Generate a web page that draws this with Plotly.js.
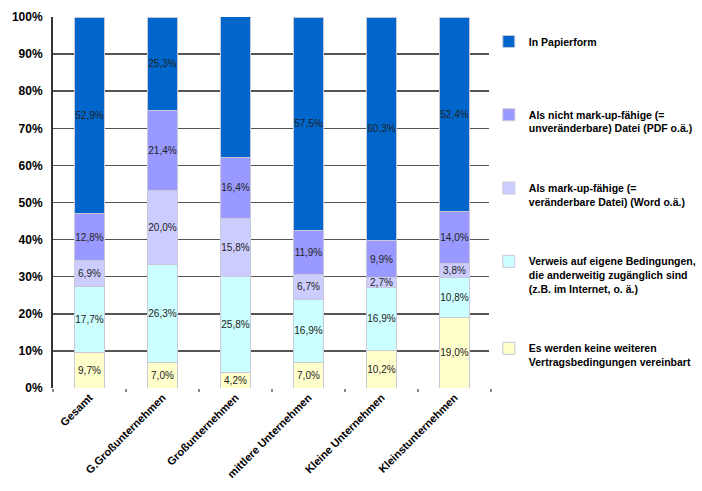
<!DOCTYPE html>
<html>
<head>
<meta charset="utf-8">
<script src="https://cdn.plot.ly/plotly-3.0.1.min.js"></script>
<style>html,body{margin:0;padding:0;background:#fff;}#chart{width:702px;height:491px;}</style>
</head>
<body>
<div id="chart"></div>
<script>
const categories = ["Gesamt", "G.Großunternehmen", "Großunternehmen", "mittlere Unternehmen", "Kleine Unternehmen", "Kleinstunternehmen"];
const seriesNames = [
  "Es werden keine weiteren<br>Vertragsbedingungen vereinbart",
  "Verweis auf eigene Bedingungen,<br>die anderweitig zugänglich sind<br>(z.B. im Internet, o. ä.)",
  "Als mark-up-fähige (=<br>veränderbare Datei) (Word o.ä.)",
  "Als nicht mark-up-fähige (=<br>unveränderbare) Datei (PDF o.ä.)",
  "In Papierform<br>\u00A0"
];
const keine      = [9.7, 7.0, 4.2, 7.0, 10.2, 19.0];
const verweis    = [17.7, 26.3, 25.8, 16.9, 16.9, 10.8];
const markup     = [6.9, 20.0, 15.8, 6.7, 2.7, 3.8];
const nichtMarkup= [12.8, 21.4, 16.4, 11.9, 9.9, 14.0];
const papier     = [52.9, 25.3, 37.9, 57.5, 60.3, 52.4];
const yTicks = [0,10,20,30,40,50,60,70,80,90,100];

const colors = ["#FFFFCC", "#CCFFFF", "#CCCCFF", "#9999FF", "#0066CC"];
const allSeries = [keine, verweis, markup, nichtMarkup, papier];

const fmt = v => v.toFixed(1).replace(".", ",") + "%";

const traces = allSeries.map((vals, i) => ({
  type: "bar",
  name: seriesNames[i],
  x: categories,
  y: vals,
  legendgroup: "g" + i,
  legendrank: 100 - i,
  marker: {color: colors[i], line: {color: "#c8c8d8", width: 1}},
  text: vals.map(fmt),
  textposition: "inside",
  insidetextanchor: "middle",
  constraintext: "none",
  textangle: 0,
  textfont: {family: "Liberation Sans, Arial, sans-serif", size: 10, color: "#222"},
  cliponaxis: false,
  hoverinfo: "name+y"
}));

const layout = {
  width: 702, height: 491,
  margin: {l: 53, r: 211, t: 17, b: 103, autoexpand: false},
  paper_bgcolor: "#fff", plot_bgcolor: "#fff",
  barmode: "stack",
  bargap: 0.6,
  showlegend: true,
  legend: {
    x: 0.995, xanchor: "left", y: 0.97, yanchor: "top",
    traceorder: "grouped",
    tracegroupgap: 43,
    valign: "top",
    font: {family: "Liberation Sans, Arial, sans-serif", size: 10.5, color: "#000", weight: "bold"},
    itemwidth: 30
  },
  xaxis: {
    type: "category",
    tickangle: -45,
    tickfont: {family: "Liberation Sans, Arial, sans-serif", size: 11, color: "#000", weight: "bold"},
    ticks: "outside", ticklen: 3, tickwidth: 2, tickcolor: "#888",
    tickson: "boundaries",
    showline: false, showgrid: false
  },
  yaxis: {
    range: [0, 100],
    tickvals: yTicks,
    ticktext: yTicks.map(v => v + "%"),
    tickfont: {family: "Liberation Sans, Arial, sans-serif", size: 12, color: "#000", weight: "bold"},
    showline: true, linecolor: "#333", linewidth: 2,
    showgrid: true, gridcolor: "#555", gridwidth: 1.5,
    zeroline: true, zerolinecolor: "rgba(0,0,0,0)",
    ticks: "", ticklabelstandoff: 6
  }
};

Plotly.newPlot("chart", traces, layout, {displayModeBar: false, staticPlot: true});
</script>
</body>
</html>
